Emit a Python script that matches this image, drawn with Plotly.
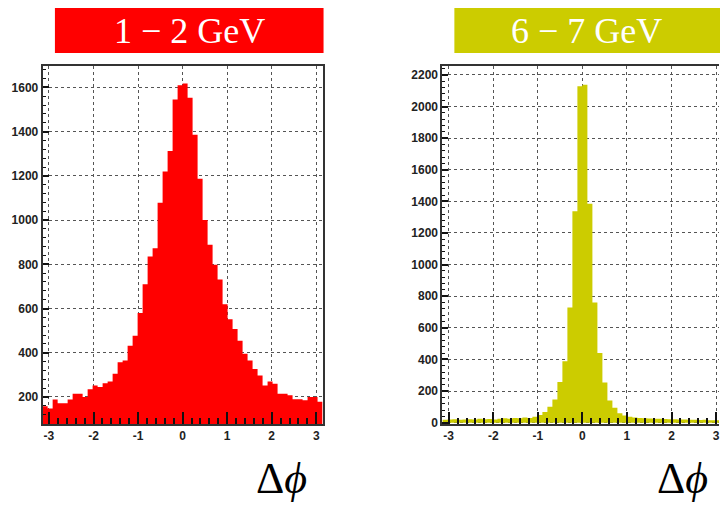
import numpy as np
import plotly.graph_objects as go

# Delta-phi histograms for two pT bins, 56 bins over [-pi, pi]
n_bins = 56
bin_edges = np.linspace(-np.pi, np.pi, n_bins + 1)

counts_1_2 = [158, 148, 188, 172, 172, 188, 215, 215, 200, 235,
              252, 245, 262, 270, 305, 357, 365, 432, 477, 580,
              710, 835, 873, 1078, 1220, 1312, 1545, 1610, 1618, 1553,
              1386, 1187, 1000, 888, 798, 731, 619, 552, 507, 454,
              395, 365, 327, 297, 252, 270, 260, 215, 215, 208,
              190, 190, 185, 200, 200, 178]

counts_6_7 = [18, 20, 22, 18, 20, 22, 20, 25, 22, 24,
              20, 25, 28, 25, 30, 28, 32, 30, 38, 48,
              68, 100, 147, 258, 388, 729, 1337, 2128, 2138, 1385,
              760, 440, 254, 140, 95, 60, 45, 37, 33, 30,
              28, 27, 25, 25, 24, 22, 22, 20, 20, 18,
              18, 17, 18, 16, 15, 15]

panel_titles = ["1 \u2212 2 GeV", "6 \u2212 7 GeV"]
panel_colors = ["#FF0000", "#CCCC00"]
x_tick_vals = [-3, -2, -1, 0, 1, 2, 3]
x_tick_text = ["-3", "-2", "-1", "0", "1", "2", "3"]

W, H = 720, 508


def px_x(p):
    return p / W


def px_y(p):
    return 1 - p / H


fig = go.Figure()

for i, (counts, color) in enumerate([(counts_1_2, panel_colors[0]),
                                     (counts_6_7, panel_colors[1])]):
    xs = list(bin_edges)
    ys = list(counts) + [counts[-1]]
    fig.add_trace(go.Scatter(
        x=xs, y=ys, mode="lines", line=dict(shape="hv", width=0, color=color),
        fill="tozeroy", fillcolor=color, showlegend=False,
        xaxis="x" if i == 0 else "x2", yaxis="y" if i == 0 else "y2",
    ))

tick_font = dict(family="Liberation Sans, Arial, sans-serif", size=12,
                 color="#222222", weight="bold")

common_x = dict(
    tickmode="array", tickvals=x_tick_vals, ticktext=x_tick_text,
    ticks="inside", ticklen=12, tickwidth=1.5, tickcolor="#111111",
    minor=dict(tickmode="linear", tick0=0, dtick=0.2, ticks="inside",
               ticklen=6, tickwidth=1.5, tickcolor="#111111", showgrid=False),
    showgrid=True, gridcolor="#555555", gridwidth=1, griddash="dot",
    showline=True, linecolor="#333333", linewidth=2, mirror=True,
    zeroline=False, tickfont=tick_font, layer="above traces",
    ticklabeloverflow="allow",
)

common_y = dict(
    ticks="inside", ticklen=6, tickwidth=1.5, tickcolor="#111111",
    minor=dict(dtick=40, ticks="inside", ticklen=3, tickwidth=1,
               tickcolor="#111111", showgrid=False),
    showgrid=True, gridcolor="#555555", gridwidth=1, griddash="dot",
    showline=True, linecolor="#333333", linewidth=2,
    zeroline=False, tickfont=tick_font, layer="above traces",
)

y_dom = [px_y(429), px_y(67)]

fig.update_layout(
    width=W, height=H, margin=dict(l=0, r=0, t=0, b=0),
    paper_bgcolor="white", plot_bgcolor="white",
    xaxis=dict(common_x, domain=[px_x(42.7), px_x(323)],
               range=[-np.pi, np.pi], anchor="y"),
    yaxis=dict(common_y, domain=y_dom, range=[78, 1696], dtick=200,
               tick0=0, mirror=True, anchor="x"),
    xaxis2=dict(common_x, domain=[px_x(443), 1.0],
                range=[-np.pi, 3.065], anchor="y2"),
    yaxis2=dict(common_y, domain=y_dom, range=[-8, 2255], dtick=200,
                tick0=0, mirror=False, anchor="x2"),
)

# Coloured title boxes
boxes = [(55, 324, 189.5), (455, 725, 587.5)]
for (x0, x1, xc), title, color in zip(boxes, panel_titles, panel_colors):
    fig.add_shape(type="rect", xref="paper", yref="paper",
                  x0=px_x(x0), x1=px_x(x1), y0=px_y(53.7), y1=px_y(8),
                  fillcolor=color, line=dict(width=0), layer="below")
    fig.add_annotation(text=title, xref="paper", yref="paper",
                       x=px_x(xc), y=px_y(31), xanchor="center",
                       yanchor="middle", showarrow=False,
                       font=dict(family="Liberation Serif, serif", size=36,
                                 color="white"))

# Axis titles
for xc in (282, 683):
    fig.add_annotation(text="\u0394<i>\u03d5</i>", xref="paper", yref="paper",
                       x=px_x(xc), y=px_y(484), xanchor="center",
                       yanchor="middle", showarrow=False,
                       font=dict(family="Liberation Serif, serif", size=44,
                                 color="black"))

fig.write_html("out.html")
